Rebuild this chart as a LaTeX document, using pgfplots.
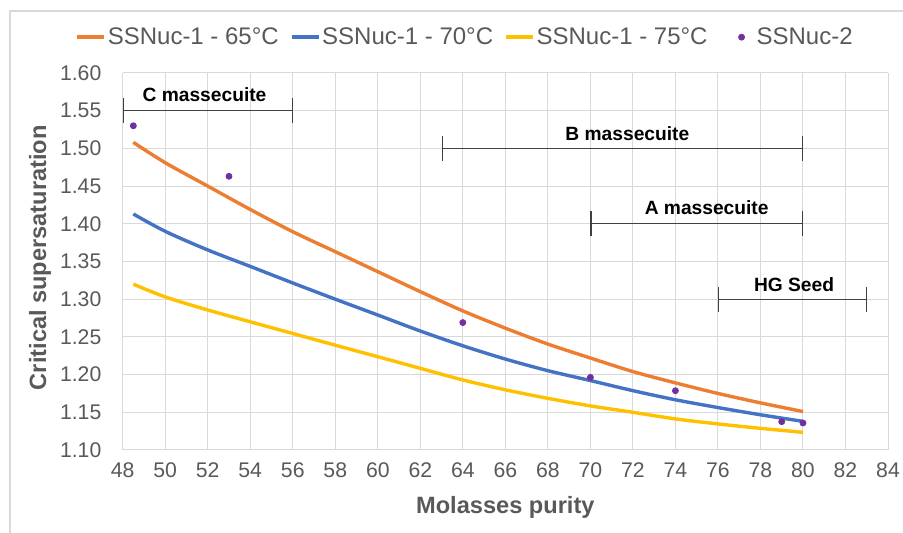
\documentclass[border=0pt]{standalone}
\usepackage{fontspec}
\setmainfont{Liberation Sans}
\usepackage{pgfplots}
\pgfplotsset{compat=1.18}
\usetikzlibrary{arrows.meta}

\definecolor{c65}{HTML}{ED7D31}
\definecolor{c70}{HTML}{4472C4}
\definecolor{c75}{HTML}{FFC000}
\definecolor{cpt}{HTML}{7030A0}
\definecolor{txt}{HTML}{595959}
\definecolor{grd}{HTML}{D9D9D9}
\definecolor{rng}{HTML}{404040}

\begin{document}
\begin{tikzpicture}
\useasboundingbox (-61.35pt,-41.5pt) rectangle (390.15pt,225pt);
\draw[grd, line width=0.6pt] (-56.35pt,-41.5pt) -- (-56.35pt,219.5pt) -- (390.15pt,219.5pt);
\begin{axis}[
    at={(0,0)}, anchor=south west,
    scale only axis,
    width=382.65pt, height=188.5pt,
    xmin=48, xmax=84, ymin=1.10, ymax=1.60,
    xtick={48,50,...,84},
    ytick={1.10,1.15,1.20,1.25,1.30,1.35,1.40,1.45,1.50,1.55,1.60},
    grid=major,
    major grid style={grd, line width=0.5pt},
    axis line style={draw=none},
    major tick length=0pt,
    /pgf/number format/assume math mode=true,
    yticklabel style={/pgf/number format/fixed, /pgf/number format/fixed zerofill,
        /pgf/number format/precision=2},
    ticklabel style={font=\fontsize{10.6}{12}\selectfont, text=txt},
    xticklabel style={anchor=center, yshift=-10pt},
    yticklabel style={anchor=east, inner sep=0pt, xshift=-10.5pt},
    xlabel={Molasses purity},
    ylabel={Critical supersaturation},
    every axis x label/.style={at={(axis description cs:0.5,-0.151)}, anchor=center,
        font=\bfseries\fontsize{11.8}{13}\selectfont, text=txt},
    every axis y label/.style={at={(axis description cs:-0.108,0.51)}, anchor=center, rotate=90,
        font=\bfseries\fontsize{11.8}{13}\selectfont, text=txt},
    legend columns=4,
    legend style={at={(axis description cs:0.4473,1.095)}, anchor=center,
        draw=none, fill=none, font=\fontsize{12}{14}\selectfont, text=txt,
        /tikz/every even column/.append style={column sep=4.5pt},
        inner sep=0pt, nodes={inner sep=1pt}},
    legend cell align=left,
]
\addplot[c65, line width=1.7pt, smooth,
    legend image code/.code={\draw[c65, line width=1.7pt] (0pt,0pt) -- (13.5pt,0pt);}]
    coordinates {
    (48.5,1.508) (50,1.481) (52,1.450) (54,1.419) (56,1.3895) (58,1.363)
    (60,1.3365) (62,1.310) (64,1.2845) (66,1.2616) (68,1.2405) (70,1.222)
    (72,1.204) (74,1.189) (76,1.175) (78,1.1625) (80,1.151)
};
\addlegendentry{SSNuc-1 - 65°C}
\addplot[c70, line width=1.7pt, smooth,
    legend image code/.code={\draw[c70, line width=1.7pt] (0pt,0pt) -- (13.5pt,0pt);}]
    coordinates {
    (48.5,1.413) (50,1.390) (52,1.3653) (54,1.3435) (56,1.3215) (58,1.300)
    (60,1.279) (62,1.2578) (64,1.2382) (66,1.2206) (68,1.2052) (70,1.1921)
    (72,1.1787) (74,1.1666) (76,1.1563) (78,1.1467) (80,1.138)
};
\addlegendentry{SSNuc-1 - 70°C}
\addplot[c75, line width=1.7pt, smooth,
    legend image code/.code={\draw[c75, line width=1.7pt] (0pt,0pt) -- (13.5pt,0pt);}]
    coordinates {
    (48.5,1.320) (50,1.303) (52,1.2857) (54,1.270) (56,1.2545) (58,1.239)
    (60,1.2237) (62,1.2083) (64,1.1929) (66,1.1798) (68,1.1685) (70,1.1585)
    (72,1.150) (74,1.1412) (76,1.1346) (78,1.1287) (80,1.1234)
};
\addlegendentry{SSNuc-1 - 75°C}
\addplot[only marks, mark=*, mark size=1.5pt, cpt, mark options={draw=cpt, fill=cpt},
    legend image code/.code={\path[draw=none, fill=none] (0pt,0pt) rectangle (18pt,0pt);
        \fill[cpt] (11.5pt,0pt) circle (1.5pt);}]
    coordinates {
    (48.5,1.530) (53,1.463) (64,1.269) (70,1.1963) (74,1.1786) (79,1.1376) (80,1.1358)
};
\addlegendentry{SSNuc-2}

% purity ranges
\addplot[forget plot, rng, line width=0.6pt, {Bar[width=12.5pt]}-{Bar[width=12.5pt]}]
    coordinates {(48,1.55) (56,1.55)};
\addplot[forget plot, rng, line width=0.6pt, {Bar[width=12.5pt]}-{Bar[width=12.5pt]}]
    coordinates {(63,1.50) (80,1.50)};
\addplot[forget plot, rng, line width=0.6pt, {Bar[width=12.5pt]}-{Bar[width=12.5pt]}]
    coordinates {(70,1.40) (80,1.40)};
\addplot[forget plot, rng, line width=0.6pt, {Bar[width=12.5pt]}-{Bar[width=12.5pt]}]
    coordinates {(76,1.30) (83,1.30)};

\node[font=\bfseries\fontsize{9.6}{11}\selectfont] at (axis cs:51.85,1.571) {C massecuite};
\node[font=\bfseries\fontsize{9.6}{11}\selectfont] at (axis cs:71.74,1.520) {B massecuite};
\node[font=\bfseries\fontsize{9.6}{11}\selectfont] at (axis cs:75.47,1.422) {A massecuite};
\node[font=\bfseries\fontsize{9.6}{11}\selectfont] at (axis cs:79.58,1.319) {HG Seed};
\end{axis}
\end{tikzpicture}
\end{document}
